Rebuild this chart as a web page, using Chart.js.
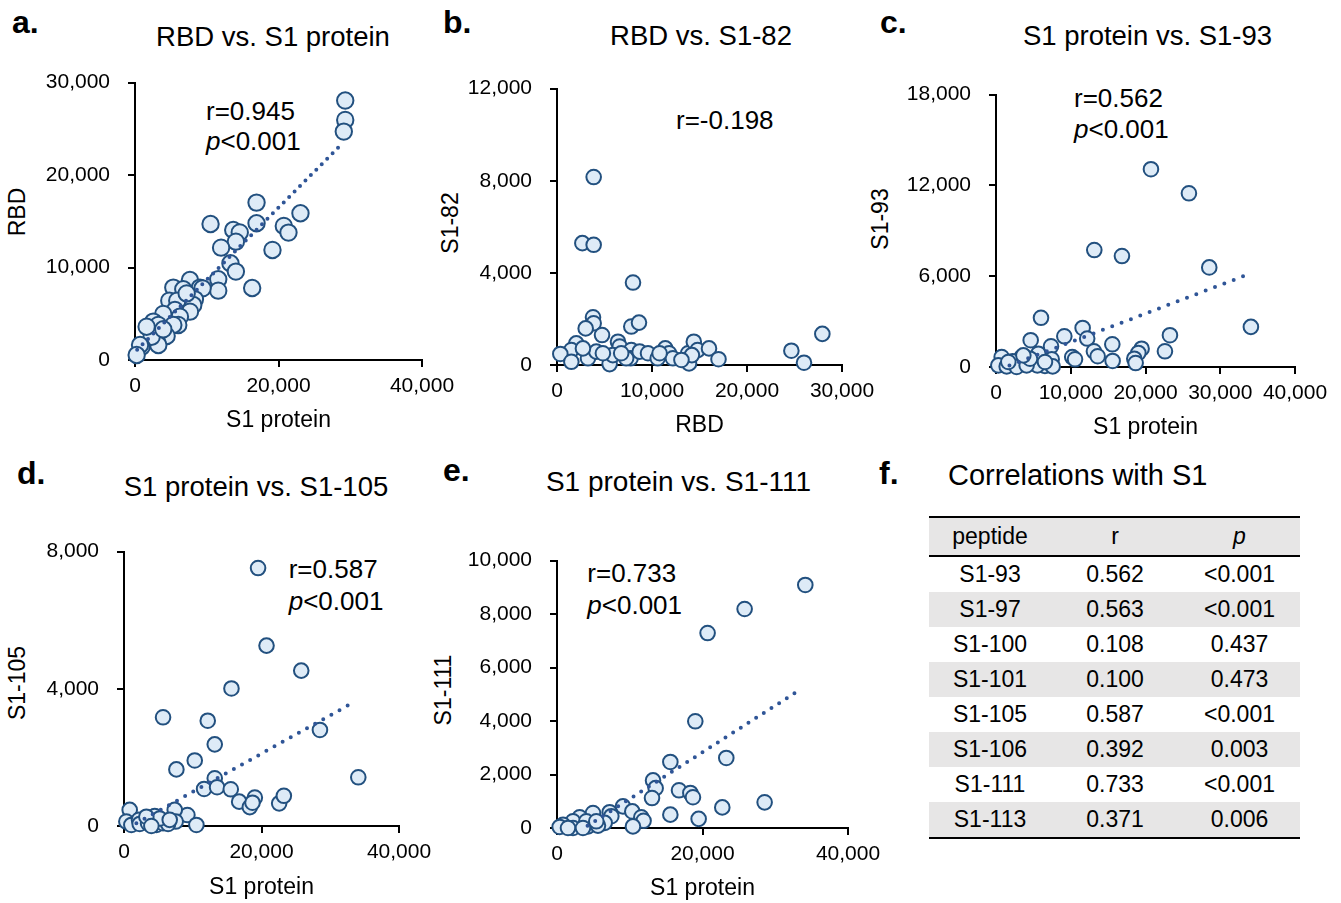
<!DOCTYPE html>
<html>
<head>
<meta charset="utf-8">
<script src="https://cdn.jsdelivr.net/npm/chart.js@4.4.0/dist/chart.umd.min.js"></script>
<style>
html,body{margin:0;padding:0;background:#fff;}
body{width:1341px;height:903px;position:relative;overflow:hidden;font-family:"Liberation Sans",Arial,Helvetica,sans-serif;color:#000;}
.t{position:absolute;white-space:nowrap;line-height:1;}
.ctr{transform:translateX(-50%);}
.lab{font-weight:bold;font-size:32px;}
.ann{font-size:26px;}
.ytl{position:absolute;white-space:nowrap;line-height:1;font-size:23px;transform:translate(-50%,-50%) rotate(-90deg);}
.tbl{position:absolute;left:929px;top:516px;width:371px;border-top:2px solid #000;border-bottom:2.5px solid #000;font-size:23px;}
.row{display:flex;height:35px;align-items:center;}
.row.hd{height:37px;border-bottom:2.5px solid #000;background:#e7e6e6;}
.row.g{background:#e7e6e6;}
.c1{width:122px;text-align:center;}
.c2{width:128px;text-align:center;}
.c3{width:121px;text-align:center;}
</style>
</head>
<body>
<!-- panel letters and titles -->
<div class="t lab" style="left:12px;top:6px;">a.</div>
<div class="t lab" style="left:443px;top:6px;">b.</div>
<div class="t lab" style="left:880px;top:6px;">c.</div>
<div class="t lab" style="left:17px;top:457px;">d.</div>
<div class="t lab" style="left:443px;top:454px;">e.</div>
<div class="t lab" style="left:879px;top:457px;">f.</div>

<div class="t ctr" style="left:273px;top:22.5px;font-size:27.5px;">RBD vs. S1 protein</div>
<div class="t ctr" style="left:701px;top:21.5px;font-size:27.5px;">RBD vs. S1-82</div>
<div class="t ctr" style="left:1147.5px;top:22px;font-size:27.5px;">S1 protein vs. S1-93</div>
<div class="t ctr" style="left:256px;top:472.5px;font-size:27.5px;">S1 protein vs. S1-105</div>
<div class="t ctr" style="left:678.5px;top:468.3px;font-size:28px;">S1 protein vs. S1-111</div>
<div class="t" style="left:948px;top:460.8px;font-size:29px;">Correlations with S1</div>

<!-- y axis titles -->
<div class="ytl" style="left:17px;top:212px;">RBD</div>
<div class="ytl" style="left:450px;top:223px;">S1-82</div>
<div class="ytl" style="left:880px;top:219px;">S1-93</div>
<div class="ytl" style="left:17px;top:683px;">S1-105</div>
<div class="ytl" style="left:443px;top:690px;">S1-111</div>

<!-- correlation annotations -->
<div class="t ann" style="left:206px;top:97.5px;">r=0.945</div>
<div class="t ann" style="left:206px;top:127.5px;"><i>p</i>&lt;0.001</div>
<div class="t ann" style="left:676px;top:106.5px;">r=-0.198</div>
<div class="t ann" style="left:1074px;top:85px;">r=0.562</div>
<div class="t ann" style="left:1074px;top:116px;"><i>p</i>&lt;0.001</div>
<div class="t ann" style="left:288.7px;top:556px;">r=0.587</div>
<div class="t ann" style="left:288.7px;top:588px;"><i>p</i>&lt;0.001</div>
<div class="t ann" style="left:587.3px;top:559.5px;">r=0.733</div>
<div class="t ann" style="left:587.3px;top:592px;"><i>p</i>&lt;0.001</div>

<div class="tbl" id="tbl"></div>

<script>
// ---------------- DATA ----------------
// a. RBD vs. S1 protein
const aS1  = [29300,29300,29100,16940,23060,10530,13690,14600,16940,20740,21390,14060,12000,19160,13300,14060,11600,11600,16330,7660,5340,6730,9050,9420,8350,4780,5890,8120,7660,5570,3940,6260,6030,5340,4410,2550,2000,2780,3250,3020,3250,2320,930,700,230,1620,3940,7200];
const aRBD = [28060,25960,24700,17020,15870,14710,14060,13800,14790,14500,13780,12800,12150,11900,10460,9560,8730,7500,7790,8650,7830,7650,7830,7750,6560,6420,6420,5950,5230,5410,4980,4690,3790,3790,2600,4150,3430,3070,3790,2160,1620,2520,1440,1620,540,3600,3320,7200];
const aTrendX = [300, 29000];
const aTrendY = [1100, 23500];
const aXTicks = [0, 20000, 40000];
const aYTicks = [0, 10000, 20000, 30000];

// b. RBD vs. S1-82
const bRBD  = [3860,2670,3860,8000,27930,24670,26000,3790,3860,3020,4740,7820,8630,2030,1510,350,1510,3260,4140,5540,6420,6600,7820,7750,8700,9580,10600,11400,11800,12200,13800,13900,14400,14800,14200,16000,17000,13100,5880,4830,7280,2730,10800,6760];
const bS182 = [8160,5290,5220,3580,1350,620,100,2070,1810,1590,1300,1670,1840,940,650,480,140,290,580,40,1010,800,650,290,580,510,290,720,510,290,510,70,1010,650,430,720,250,220,430,510,290,720,510,510];
const bXTicks = [0, 10000, 20000, 30000];
const bYTicks = [0, 4000, 8000, 12000];

// c. S1 protein vs. S1-93
const cS1   = [20730,25810,13150,16850,28530,34100,6020,11590,12200,9140,4640,7360,15560,23270,22600,19480,19040,18500,18680,15600,13100,13600,10200,10570,7450,6550,5530,5660,3430,2230,760,310,1430,2760,4100,4550,7580,6550,1650,3660];
const cS193 = [13070,11480,7730,7330,6580,2650,3250,2580,1880,2030,1770,1370,1500,2100,1040,1210,930,550,260,400,1040,710,660,510,510,70,110,880,660,380,660,110,40,0,110,550,40,330,330,770];
const cTrendX = [1800, 33100];
const cTrendY = [100, 6000];
const cXTicks = [0, 10000, 20000, 30000, 40000];
const cYTicks = [0, 6000, 12000, 18000];

// d. S1 protein vs. S1-105
const dS1    = [20730,25780,15630,5680,12180,13200,28500,10290,7620,13200,34080,11650,13540,15530,16750,18300,19030,18690,22570,23250,9220,10530,7380,7520,830,340,1070,2180,2280,3500,4470,4710,5680,6410,5190,3250,6650,3980];
const dS1105 = [5260,4530,4010,3170,3070,2380,2800,1910,1650,1390,1420,1080,1130,1070,710,550,830,680,660,880,320,30,470,130,470,130,30,180,60,80,290,30,80,60,220,270,180,0];
const dMarkerX = [19500];
const dMarkerY = [7520];
const dTrendX = [1800, 33600];
const dTrendY = [80, 3630];
const dXTicks = [0, 20000, 40000];
const dYTicks = [0, 4000, 8000];

// e. S1 protein vs. S1-111
const eS1    = [34130,25790,20700,19010,15580,23270,13200,13560,13060,16770,18330,18690,28540,22720,15580,19470,9070,10350,11590,11900,10440,7240,7470,6550,4950,3120,2200,830,370,2200,4260,5630,4030,1510,3570,5400];
const eS1111 = [9090,8190,7290,3990,2470,2620,1780,1490,1120,1410,1310,1150,960,770,500,340,810,620,400,270,60,590,440,190,560,400,250,120,40,0,60,90,250,0,0,250];
const eTrendX = [4200, 33000];
const eTrendY = [80, 5100];
const eXTicks = [0, 20000, 40000];
const eYTicks = [0, 2000, 4000, 6000, 8000, 10000];

// f. Correlations with S1
const fPeptides = ['S1-93','S1-97','S1-100','S1-101','S1-105','S1-106','S1-111','S1-113'];
const fR = ['0.562','0.563','0.108','0.100','0.587','0.392','0.733','0.371'];
const fP = ['<0.001','<0.001','0.437','0.473','<0.001','0.003','<0.001','0.006'];

// ---------------- STYLE ----------------
const FONT = '"Liberation Sans", Arial, Helvetica, sans-serif';
Chart.defaults.font.family = FONT;
Chart.defaults.color = '#000';
const FILL = '#DEEBF7';
const EDGE = '#22507F';
const TREND = '#2F5597';

function pts(xs, ys) { return xs.map((x, i) => ({ x: x, y: ys[i] })); }
function fmt(v) { return Number(v).toLocaleString('en-US'); }

function axis(max, ticks, title, size, isX) {
  return {
    type: 'linear', position: isX ? 'bottom' : 'left', min: 0, max: max,
    afterBuildTicks: s => { s.ticks = ticks.map(v => ({ value: v })); },
    afterFit: s => { if (isX) s.height = size; else s.width = size; },
    grid: { drawOnChartArea: false, drawTicks: true, tickLength: 7, lineWidth: 2, color: '#000' },
    border: { display: true, color: '#000', width: 2 },
    ticks: { color: '#000', font: { size: 21 }, padding: isX ? 7 : 18, maxRotation: 0, minRotation: 0, autoSkip: false, callback: v => fmt(v) },
    title: { display: !!title, text: title || '', color: '#000', font: { size: 23 }, padding: 0 }
  };
}

function build(o, left, top, W, H, yW, xH) {
  const cv = document.createElement('canvas');
  cv.width = W; cv.height = H;
  cv.style.cssText = 'position:absolute;left:' + left + 'px;top:' + top + 'px;width:' + W + 'px;height:' + H + 'px;';
  document.body.appendChild(cv);
  const datasets = [];
  if (o.trend) {
    datasets.push({ data: pts(o.trend[0], o.trend[1]), showLine: true, pointRadius: 0, pointHoverRadius: 0,
      borderColor: TREND, borderWidth: 4, borderDash: [0, o.dash], borderCapStyle: 'round',
      fill: false, order: 0, clip: false });
  }
  datasets.push({ data: pts(o.xs, o.ys), pointRadius: o.r, pointBorderWidth: 2,
    pointBackgroundColor: FILL, pointBorderColor: EDGE, backgroundColor: FILL, borderColor: EDGE,
    showLine: false, order: 1, clip: false });
  if (o.extra) {
    datasets.push({ data: pts(o.extra[0], o.extra[1]), pointRadius: o.r, pointBorderWidth: 2,
      pointBackgroundColor: FILL, pointBorderColor: EDGE, showLine: false, order: 1, clip: false });
  }
  const chart = new Chart(cv, {
    type: 'scatter',
    data: { datasets: datasets },
    options: {
      responsive: false, maintainAspectRatio: false, animation: false, devicePixelRatio: 1, events: [],
      layout: { padding: { top: 20, right: 40, left: 0, bottom: 0 } },
      plugins: { legend: { display: false }, tooltip: { enabled: false }, title: { display: false } },
      scales: {
        x: axis(o.xMax, o.xTicks, o.xTitle, xH, true),
        y: axis(o.yMax, o.yTicks, null, yW, false)
      }
    }
  });
  return { chart: chart, cv: cv };
}

function makePanel(o) {
  const yW = 100;
  let left = o.L - yW;
  let top = o.T - 20;
  let bottom = Math.round(o.xTitleY + 14);
  let right = o.R + 40;
  const xH = bottom - o.B;
  let b = build(o, left, top, right - left, bottom - top, yW, xH);
  // align the plotted area exactly on the reference axes
  const ca = b.chart.chartArea;
  if (ca) {
    const dL = (left + ca.left) - o.L, dT = (top + ca.top) - o.T;
    const dR = (left + ca.right) - o.R, dB = (top + ca.bottom) - o.B;
    if (Math.abs(dL) > 0.5 || Math.abs(dT) > 0.5 || Math.abs(dR) > 0.5 || Math.abs(dB) > 0.5) {
      b.chart.destroy();
      if (b.cv.parentNode) b.cv.parentNode.removeChild(b.cv);
      left -= dL; top -= dT; right -= dR; bottom -= dB;
      b = build(o, Math.round(left), Math.round(top), Math.round(right - left), Math.round(bottom - top), yW, xH);
    }
  }
  return b.chart;
}

makePanel({ L: 135, T: 83, R: 422, B: 360, xTitleY: 420,
  xs: aS1, ys: aRBD, trend: [aTrendX, aTrendY], dash: 7.7, r: 8.2,
  xMax: 40000, yMax: 30000, xTicks: aXTicks, yTicks: aYTicks, xTitle: 'S1 protein' });

makePanel({ L: 557, T: 89, R: 842, B: 365, xTitleY: 425,
  xs: bRBD, ys: bS182, r: 7.3,
  xMax: 30000, yMax: 12000, xTicks: bXTicks, yTicks: bYTicks, xTitle: 'RBD' });

makePanel({ L: 996, T: 95, R: 1295, B: 367, xTitleY: 427,
  xs: cS1, ys: cS193, trend: [cTrendX, cTrendY], dash: 10, r: 7.3,
  xMax: 40000, yMax: 18000, xTicks: cXTicks, yTicks: cYTicks, xTitle: 'S1 protein' });

makePanel({ L: 124, T: 552, R: 399, B: 826, xTitleY: 887,
  xs: dS1, ys: dS1105, extra: [dMarkerX, dMarkerY], trend: [dTrendX, dTrendY], dash: 9.3, r: 7.3,
  xMax: 40000, yMax: 8000, xTicks: dXTicks, yTicks: dYTicks, xTitle: 'S1 protein' });

makePanel({ L: 557, T: 561, R: 848, B: 828, xTitleY: 888,
  xs: eS1, ys: eS1111, trend: [eTrendX, eTrendY], dash: 9.1, r: 7.3,
  xMax: 40000, yMax: 10000, xTicks: eXTicks, yTicks: eYTicks, xTitle: 'S1 protein' });

// table f
(function () {
  const tbl = document.getElementById('tbl');
  let html = '<div class="row hd"><div class="c1">peptide</div><div class="c2">r</div><div class="c3"><i>p</i></div></div>';
  fPeptides.forEach((pep, i) => {
    html += '<div class="row' + (i % 2 === 1 ? ' g' : '') + '"><div class="c1">' + pep + '</div><div class="c2">' + fR[i] +
      '</div><div class="c3">' + fP[i].replace('<', '&lt;') + '</div></div>';
  });
  tbl.innerHTML = html;
})();
</script>
</body>
</html>
